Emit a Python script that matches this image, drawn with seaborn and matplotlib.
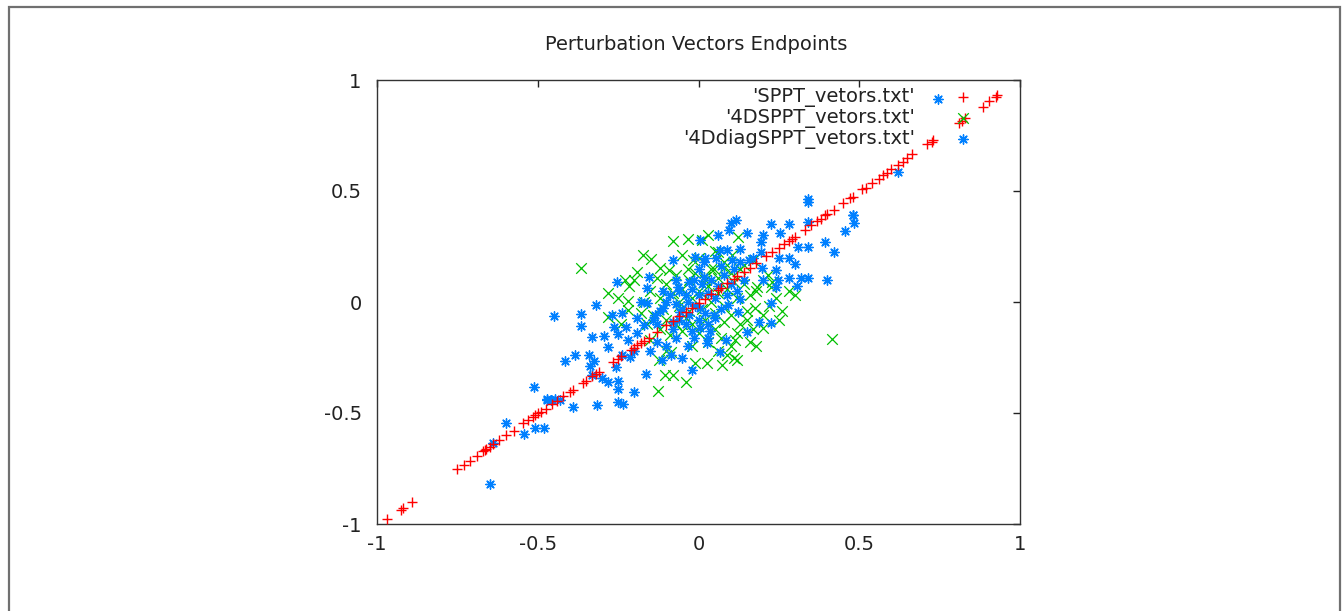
import matplotlib
matplotlib.use("Agg")
import matplotlib.pyplot as plt
from matplotlib.patches import Rectangle
import seaborn as sns
import pandas as pd

title = "Perturbation Vectors Endpoints"
labels = ["'SPPT_vetors.txt'", "'4DSPPT_vetors.txt'", "'4DdiagSPPT_vetors.txt'"]
ticks = [-1, -0.5, 0, 0.5, 1]
tick_labels = ["-1", "-0.5", "0", "0.5", "1"]

sppt_x = [-0.97, -0.925, -0.92, -0.89, -0.75, -0.73, -0.71, -0.69, -0.67, -0.665, -0.66, -0.65, -0.64,
          -0.62, -0.60, -0.575, -0.545, -0.53, -0.515, -0.51, -0.50, -0.49, -0.475, -0.455, -0.44, -0.42,
          -0.40, -0.39, -0.36, -0.35, -0.33, -0.32, -0.31, -0.265, -0.25, -0.24, -0.21, -0.20, -0.19,
          -0.18, -0.17, -0.155, -0.13, -0.10, -0.08, -0.06, -0.04, -0.02, 0.0, 0.02, 0.04, 0.06, 0.07,
          0.09, 0.11, 0.12, 0.14, 0.16, 0.18, 0.21, 0.23, 0.25, 0.265, 0.28, 0.29, 0.30, 0.33, 0.35,
          0.37, 0.38, 0.395, 0.40, 0.42, 0.45, 0.47, 0.48, 0.51, 0.52, 0.54, 0.56, 0.575, 0.585, 0.60,
          0.62, 0.635, 0.65, 0.665, 0.71, 0.725, 0.73, 0.81, 0.82, 0.83, 0.885, 0.905, 0.925, 0.93]
sppt_y = [-0.977, -0.937, -0.93, -0.90, -0.752, -0.735, -0.715, -0.695, -0.672, -0.665, -0.66, -0.652,
          -0.64, -0.622, -0.60, -0.58, -0.545, -0.532, -0.52, -0.51, -0.50, -0.495, -0.48, -0.46, -0.445,
          -0.425, -0.405, -0.395, -0.365, -0.355, -0.335, -0.325, -0.315, -0.27, -0.255, -0.245, -0.215,
          -0.205, -0.195, -0.185, -0.175, -0.16, -0.135, -0.105, -0.085, -0.065, -0.045, -0.025, -0.005,
          0.015, 0.035, 0.055, 0.065, 0.085, 0.105, 0.118, 0.135, 0.155, 0.175, 0.205, 0.225, 0.245,
          0.26, 0.275, 0.285, 0.295, 0.325, 0.345, 0.365, 0.375, 0.39, 0.398, 0.415, 0.445, 0.468,
          0.475, 0.508, 0.515, 0.535, 0.555, 0.57, 0.58, 0.598, 0.615, 0.63, 0.648, 0.665, 0.71, 0.72,
          0.73, 0.806, 0.815, 0.83, 0.878, 0.905, 0.925, 0.932]

d4_x = [-0.364, -0.08, -0.034, -0.174, -0.149, -0.19, -0.215, -0.121, -0.28, -0.093, -0.034, -0.016,
        0.124, 0.028, 0.30, -0.218, -0.22, -0.283, -0.103, -0.08, -0.125, -0.04, -0.01, 0.027, -0.084,
        -0.124, 0.414, 0.074, 0.11, 0.12, 0.2, 0.177, 0.152, 0.115, 0.09, 0.01, 0.06, 0.105, 0.08, 0.047,
        0.14, 0.171, 0.215, 0.2, 0.183, 0.224, 0.02,
        -0.15, -0.12, -0.10, -0.08, -0.06, -0.05, -0.03, -0.02, 0.0, 0.01, 0.03, 0.04, 0.05, 0.06, 0.08,
        0.09, 0.1, 0.12, 0.13, 0.14, 0.15, 0.16, 0.17, 0.18, 0.2, 0.22, 0.24, -0.18, -0.16, -0.14, -0.12,
        -0.1, -0.09, -0.07, -0.05, -0.04, -0.02, 0.0, 0.02, 0.03, 0.05, 0.07, 0.08, 0.1, 0.12, -0.2,
        -0.17, -0.13, -0.11, -0.07, -0.06, -0.03, -0.01, 0.02, 0.04, 0.06, 0.08, 0.1, 0.11, 0.13, 0.16,
        0.18, 0.06, -0.02, -0.1, -0.15, -0.24, -0.25, -0.23, 0.0, -0.05, 0.05, 0.25, 0.23, 0.28, 0.26]
d4_y = [0.153, 0.275, 0.284, 0.212, 0.194, 0.135, 0.072, 0.153, 0.04, 0.144, 0.149, 0.189,
        0.293, 0.30, 0.03, 0.005, -0.036, -0.068, -0.33, -0.33, -0.40, -0.36, -0.275, -0.275, -0.225,
        -0.26, -0.167, -0.284, -0.25, -0.26, -0.117, -0.027, -0.08, -0.17, -0.24, 0.28, 0.225, 0.21,
        0.153, 0.15, 0.167, 0.19, 0.122, 0.1, 0.068, 0.068, 0.113,
        0.05, 0.02, 0.08, 0.04, -0.02, 0.06, 0.10, 0.02, 0.05, -0.03, 0.07, 0.0, -0.05, 0.04, -0.02,
        0.06, -0.06, 0.02, -0.1, 0.08, -0.04, 0.03, -0.12, 0.05, -0.06, -0.02, 0.02, -0.05, -0.1, -0.06,
        -0.12, -0.08, -0.15, -0.1, -0.13, -0.07, -0.1, -0.14, -0.08, -0.18, -0.12, -0.16, -0.09, -0.2,
        -0.14, 0.1, 0.0, 0.11, -0.03, 0.12, 0.0, -0.04, 0.13, 0.1, 0.15, 0.11, 0.18, 0.13, 0.09, 0.15,
        -0.18, -0.2, -0.22, -0.2, -0.22, -0.17, -0.1, 0.02, 0.1, 0.2, 0.21, 0.23, -0.08, 0.09, 0.05,
        -0.04]

diag_x = [-0.513, -0.47, -0.46, -0.60, -0.544, -0.51, -0.482, -0.64, -0.65,
          0.746, 0.622, 0.482, 0.342, 0.342, 0.482, 0.485, 0.457, 0.395, 0.42, 0.40, 0.34, 0.318, 0.28,
          0.307, 0.24, 0.34, 0.283, 0.224, 0.255, 0.31, 0.34, 0.193, 0.193, 0.15, 0.118, 0.1, 0.096,
          0.062, 0.128, 0.09, 0.068, 0.105, 0.053, 0.02, 0.196, 0.156, 0.246, 0.24, 0.2,
          -0.448, -0.367, -0.364, -0.32, -0.27, -0.237, -0.33, -0.295, -0.264, -0.227, -0.19, -0.25,
          -0.283, -0.383, -0.414, -0.34, -0.326, -0.336, -0.33, -0.258, -0.237, -0.212, -0.30, -0.283,
          -0.25, -0.25, -0.2, -0.317, -0.389, -0.249, -0.236, -0.47, -0.445, -0.43, -0.162, -0.115,
          -0.084, -0.02, -0.128, -0.07, -0.034, -0.015, -0.19, -0.17, -0.14, -0.18, -0.16, -0.134,
          -0.109, -0.078, -0.056, -0.034, 0.006, 0.006, 0.028,
          0.13, 0.224, 0.187, 0.224, 0.152, 0.084, 0.027, 0.068, 0.037, 0.047, 0.093, 0.124,
          0.006, -0.252, -0.08, -0.012, -0.155, -0.16, -0.065, -0.015, 0.016, 0.016,
          -0.1, -0.09, -0.07, -0.06, -0.05, -0.04, -0.03, -0.02, -0.01, 0.0, 0.01, 0.02, 0.03, 0.04,
          0.05, 0.06, 0.07, 0.08, 0.09, 0.1, 0.11, 0.12, 0.13, 0.14, -0.12, -0.11, -0.13, -0.08, -0.06,
          -0.04, -0.02, 0.0, 0.03, 0.05, -0.03, -0.07, 0.07, 0.0, -0.1, -0.05, -0.15, -0.2, -0.22, 0.17,
          0.2, 0.25, 0.3, 0.28]
diag_y = [-0.383, -0.44, -0.44, -0.545, -0.595, -0.568, -0.568, -0.635, -0.82,
          0.914, 0.586, 0.392, 0.45, 0.462, 0.39, 0.356, 0.32, 0.27, 0.225, 0.10, 0.11, 0.11, 0.11,
          0.07, 0.144, 0.36, 0.35, 0.35, 0.31, 0.25, 0.25, 0.27, 0.225, 0.31, 0.37, 0.355, 0.325,
          0.30, 0.24, 0.234, 0.234, 0.19, 0.2, 0.2, 0.153, 0.19, 0.1, 0.068, 0.1,
          -0.063, -0.054, -0.11, -0.014, -0.059, -0.05, -0.158, -0.153, -0.113, -0.113, -0.072, -0.144,
          -0.203, -0.239, -0.266, -0.24, -0.266, -0.29, -0.33, -0.293, -0.239, -0.248, -0.342, -0.36,
          -0.356, -0.39, -0.405, -0.464, -0.473, -0.45, -0.46, -0.437, -0.437, -0.44, -0.326, -0.26,
          -0.24, -0.306, -0.18, -0.16, -0.2, -0.16, -0.14, -0.104, -0.081, 0.0, -0.005, -0.06,
          -0.027, -0.09, -0.045, 0.0, -0.027, -0.117, -0.16,
          0.013, -0.004, -0.09, -0.095, -0.135, -0.171, -0.185, -0.225, -0.131, -0.059, -0.014, -0.045,
          0.279, 0.09, 0.189, 0.203, 0.113, 0.063, 0.068, 0.099, 0.113, 0.18,
          0.0, 0.03, -0.01, 0.05, -0.03, 0.03, -0.06, 0.06, -0.02, 0.03, 0.08, -0.05, 0.04, 0.1,
          0.02, 0.07, -0.03, 0.12, 0.03, 0.08, 0.15, 0.05, 0.18, 0.1, -0.04, 0.05, -0.1, -0.12, -0.08,
          -0.1, -0.13, -0.08, -0.1, -0.07, 0.09, 0.1, 0.16, 0.15, -0.2, -0.25, -0.22, -0.22, -0.17, 0.2,
          0.3, 0.2, 0.17, 0.2]

df_sppt = pd.DataFrame({"x": sppt_x, "y": sppt_y})
df_d4 = pd.DataFrame({"x": d4_x, "y": d4_y})
df_diag = pd.DataFrame({"x": diag_x, "y": diag_y})

sns.set_style("white")
plt.rcParams["font.family"] = ["DejaVu Sans"]
plt.rcParams["axes.unicode_minus"] = False

W, H = 1343, 611
fig = plt.figure(figsize=(W / 100, H / 100), dpi=100)
ax = fig.add_axes([377 / W, 1 - 524 / H, (1020 - 377) / W, (524 - 80) / H])

red, green, blue = "#ff0000", "#00c000", "#0080ff"
FS = 14
star = (8, 2, 0)

sns.scatterplot(data=df_d4, x="x", y="y", ax=ax, marker="x", color=green, s=58,
                linewidth=0.9, zorder=2, legend=False)
sns.scatterplot(data=df_diag, x="x", y="y", ax=ax, marker=star, color=blue, s=45,
                linewidth=1.0, edgecolor=blue, zorder=3, legend=False)
sns.scatterplot(data=df_sppt, x="x", y="y", ax=ax, marker="+", color=red, s=48,
                linewidth=1.0, zorder=4, legend=False)

ax.set_xlim(-1, 1)
ax.set_ylim(-1, 1)
ax.set_xticks(ticks)
ax.set_xticklabels(tick_labels)
ax.set_yticks(ticks)
ax.set_yticklabels(tick_labels)
ax.set_xlabel("")
ax.set_ylabel("")
ax.tick_params(direction="in", length=5, width=1, top=True, right=True, labelsize=FS,
               colors="#222222")
ax.tick_params(axis="x", pad=8)
ax.tick_params(axis="y", pad=11)
for sp in ax.spines.values():
    sp.set_color("#333333")
    sp.set_linewidth(1)

# key (gnuplot style): right-aligned labels, sample marker to their right
key_marks = [("+", red, 48, 1.0), ("x", green, 58, 0.9), (star, blue, 45, 1.0)]
key_y = [0.9617, 0.9144, 0.8671]
for lab, (m, c, s, lw), yk in zip(labels, key_marks, key_y):
    ax.text(0.8367, yk, lab, transform=ax.transAxes, ha="right", va="center",
            fontsize=FS, color="#222222")
    ax.scatter([0.9114], [yk], transform=ax.transAxes, marker=m, color=c, s=s,
               linewidths=lw, clip_on=False, zorder=5)

fig.text(696 / W, 1 - 44 / H, title, ha="center", va="center", fontsize=FS, color="#222222")

fig.patches.append(Rectangle((8.5 / W, -0.2), (1340 - 8.5) / W, 1.2 - 6.5 / H,
                             transform=fig.transFigure, fill=False, edgecolor="#707070",
                             linewidth=1.6))

fig.savefig("out.png", dpi=100)
